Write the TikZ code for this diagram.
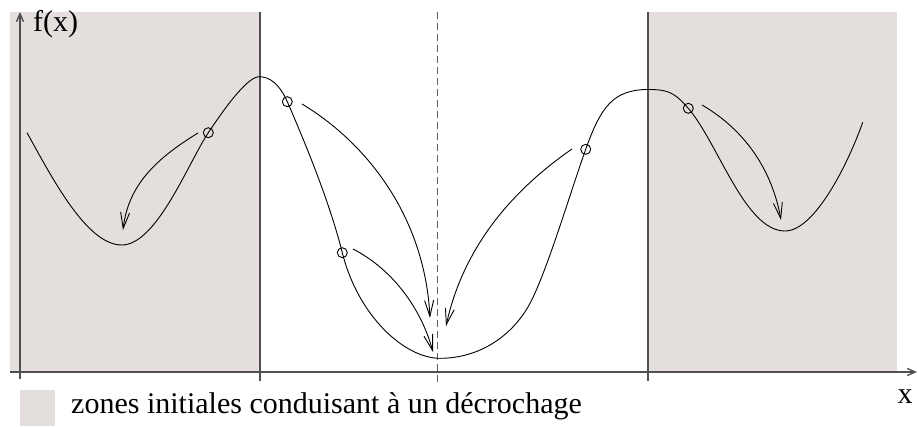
\documentclass[tikz,border=0pt]{standalone}
\usepackage{fontspec}
\setmainfont{Liberation Serif}
\usetikzlibrary{arrows.meta}
\definecolor{zone}{RGB}{228,222,221}
\definecolor{axisgray}{RGB}{80,80,80}
\definecolor{dashgray}{RGB}{95,95,95}
\begin{document}
\begin{tikzpicture}[x=1pt,y=-1pt,
  axisline/.style={draw=axisgray, line width=1.4pt},
  curve/.style={draw=black, line width=0.9pt},
  arr/.style={draw=black, line width=0.9pt, -{Straight Barb[length=16pt,width=9pt]}},
  axarr/.style={-{Straight Barb[length=8pt,width=7pt]}},
  dot/.style={circle, draw=black, line width=0.9pt, minimum size=10pt, inner sep=0pt},
  lbl/.style={font=\fontsize{30}{35}\selectfont, inner sep=0pt}]
\useasboundingbox (0,0) rectangle (918,426);
% zones
\fill[zone] (10,12) rectangle (259,372);
\fill[zone] (648,12) rectangle (897,372);
% separators
\draw[axisline] (260,12) -- (260,381);
\draw[axisline] (648,12) -- (648,381);
\draw[draw=dashgray, line width=1.3pt, dash pattern=on 7pt off 4pt] (437.5,12) -- (437.5,385);
% axes
\coordinate (xs) at (10,372);
\coordinate (xe) at (917,372);
\coordinate (ys) at (20,379);
\coordinate (ye) at (20,12);
\draw[axisline, axarr] (xs) -- (xe);
\draw[axisline, axarr] (ys) -- (ye);
% key points of the curve
\coordinate (s0) at (27,132.7);
\coordinate (m1) at (121.7,245);
\coordinate (p1) at (259.3,76.7);
\coordinate (m2) at (440,358.3);
\coordinate (q1) at (530,303.3);
\coordinate (p2) at (648,89.5);
\coordinate (m3) at (785,231);
\coordinate (e0) at (862.7,122.3);
% points
\node[dot] (c1) at (208.3,132.7) {};
\node[dot] (c2) at (287.3,101.7) {};
\node[dot] (c3) at (342.3,252.7) {};
\node[dot] (c4) at (585.7,149.3) {};
\node[dot] (c5) at (688.3,108.3) {};
% curve
\draw[curve] (s0)
  .. controls +(25,45) and +(-35,0) .. (m1)
  .. controls +(35,0) and +(-20,30) .. (c1.center)
  .. controls +(20,-30) and +(-11,0) .. (p1)
  .. controls +(11,0) and +(-7.3,-16.7) .. (c2.center)
  .. controls +(20,46) and +(-12,-48) .. (c3.center)
  .. controls +(16,64) and +(-35,0) .. (m2)
  .. controls +(40,0) and +(-17,32) .. (q1)
  .. controls +(17,-32) and +(-15,42) .. (c4.center)
  .. controls +(15,-42) and +(-35,0) .. (p2)
  .. controls +(20,0) and +(-14,-16) .. (c5.center)
  .. controls +(30,35) and +(-40,0) .. (m3)
  .. controls +(30,0) and +(-14,40) .. (e0);
% arrows
\coordinate (a1s) at (198,133);  \coordinate (a1e) at (123,230);
\coordinate (a2s) at (302,104);  \coordinate (a2e) at (430,318);
\coordinate (a3s) at (353,249);  \coordinate (a3e) at (433,352);
\coordinate (a4s) at (572,149);  \coordinate (a4e) at (446,326);
\coordinate (a5s) at (702,105);  \coordinate (a5e) at (781,220);
\draw[arr] (a1s) .. controls (152,161) and (128,188) .. (a1e);
\draw[arr] (a2s) .. controls (370,145) and (425,220) .. (a2e);
\draw[arr] (a3s) .. controls (390,268) and (420,305) .. (a3e);
\draw[arr] (a4s) .. controls (520,185) and (465,240) .. (a4e);
\draw[arr] (a5s) .. controls (745,130) and (772,170) .. (a5e);
% labels
\node[lbl, anchor=base west] (fx) at (33,31.7) {f(x)};
\node[lbl, anchor=base west] (xl) at (897.5,403) {x};
\fill[zone] (20,389.5) rectangle (55,425.5);
\node[lbl, anchor=base west] (leg) at (71,413) {zones initiales conduisant à un décrochage};
\end{tikzpicture}
\end{document}
